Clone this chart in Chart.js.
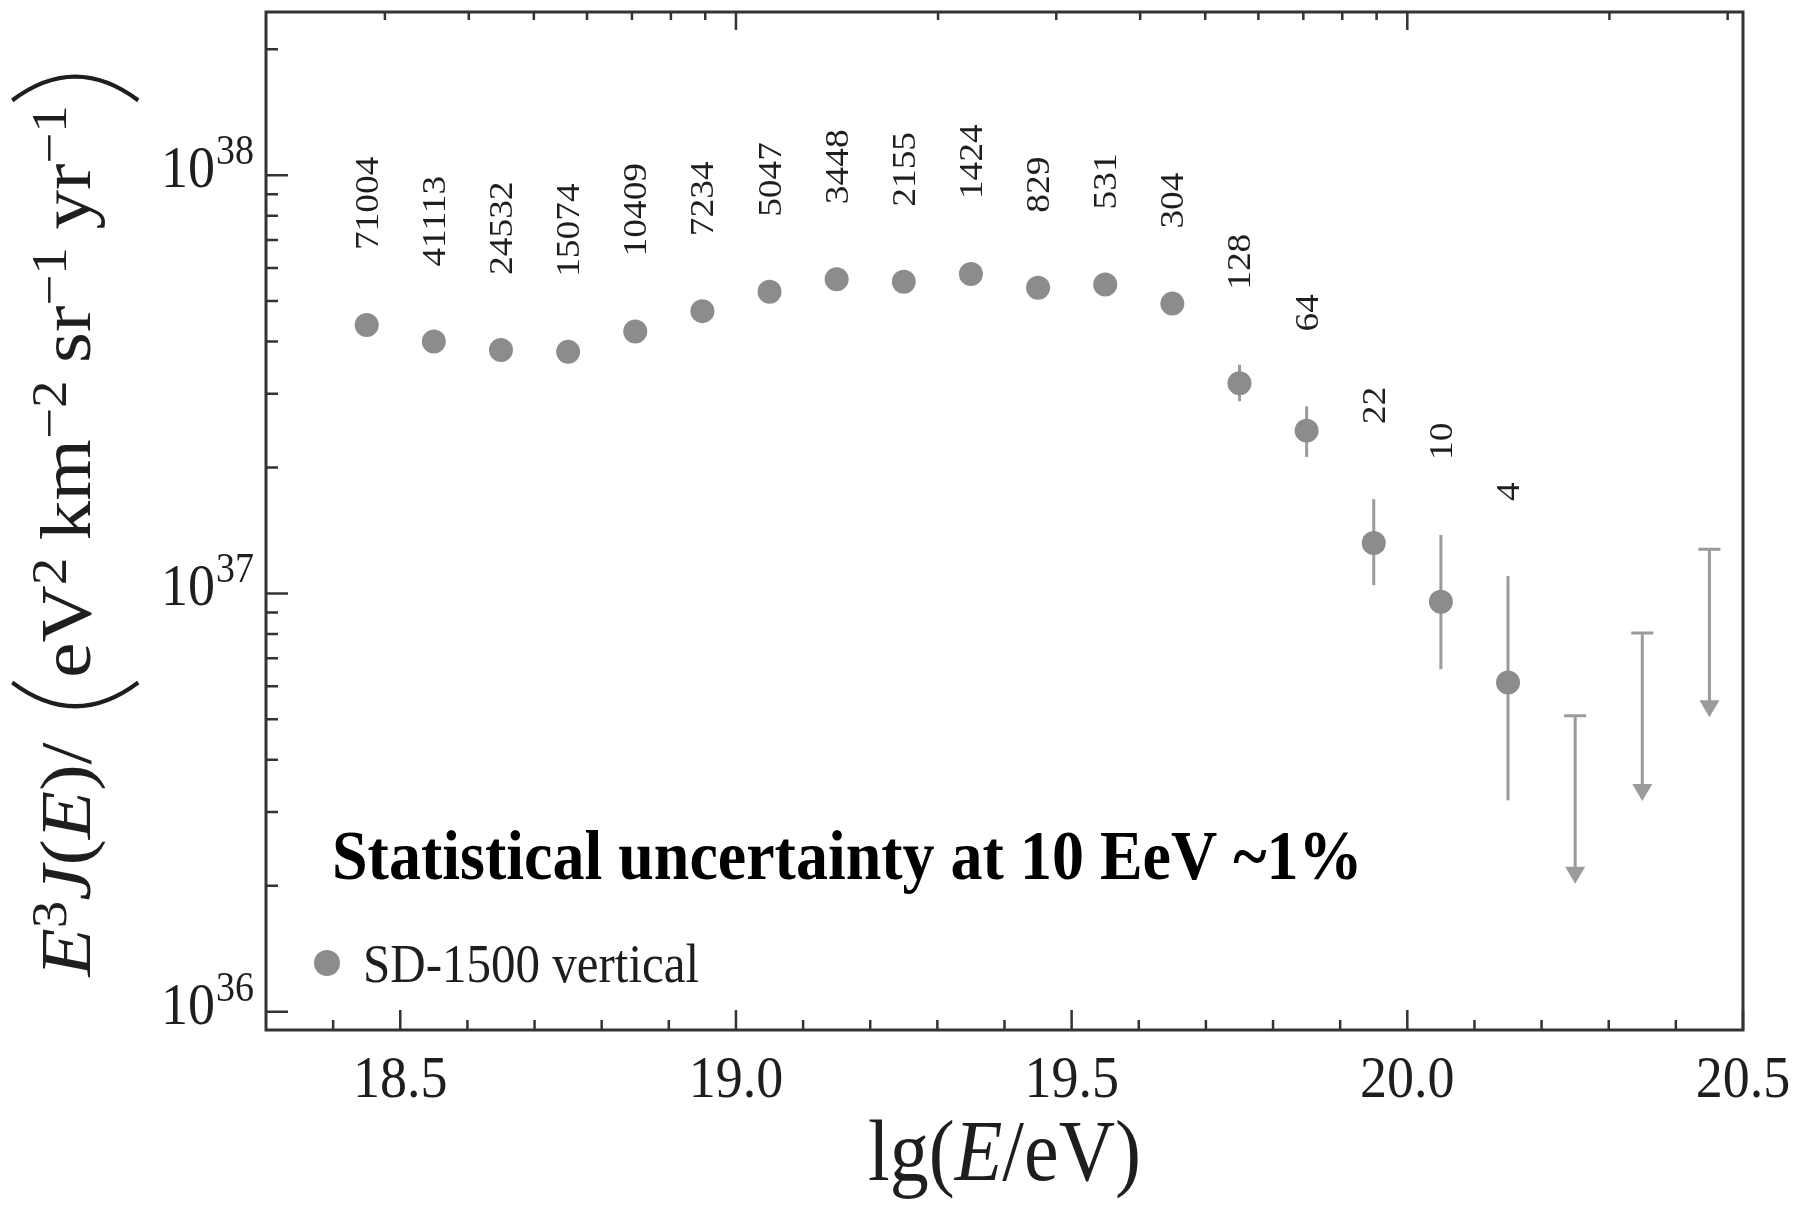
<!DOCTYPE html>
<html>
<head>
<meta charset="utf-8">
<title>SD-1500 vertical</title>
<script src="https://cdn.jsdelivr.net/npm/chart.js@4.4.1/dist/chart.umd.min.js"></script>
<style>
  html, body { margin: 0; padding: 0; background: #fff; }
  #marco { width: 1814px; height: 1205px; }
</style>
</head>
<body>
<div id="marco"><canvas id="grafico" width="1814" height="1205"></canvas></div>
<script>
// Espectro E^3 J(E), SD-1500 vertical
const lgE = [18.45, 18.55, 18.65, 18.75, 18.85, 18.95, 19.05, 19.15, 19.25,
             19.35, 19.45, 19.55, 19.65, 19.75, 19.85, 19.95, 20.05, 20.15];
const flujo = [4.38e37, 4.00e37, 3.82e37, 3.78e37, 4.23e37, 4.73e37, 5.26e37, 5.64e37, 5.56e37,
               5.80e37, 5.38e37, 5.48e37, 4.93e37, 3.18e37, 2.45e37, 1.32e37, 9.55e36, 6.12e36];
// barras de error (null = más chica que el marcador)
const errSup = [null, null, null, null, null, null, null, null, null,
                null, null, null, null, 3.52e37, 2.80e37, 1.68e37, 1.38e37, 1.10e37];
const errInf = [null, null, null, null, null, null, null, null, null,
                null, null, null, null, 2.88e37, 2.12e37, 1.047e37, 6.59e36, 3.20e36];
// número de eventos de cada bin
const eventos = [71004, 41113, 24532, 15074, 10409, 7234, 5047, 3448, 2155,
                 1424, 829, 531, 304, 128, 64, 22, 10, 4];
// cotas superiores
const lgELimites = [20.25, 20.35, 20.45];
const limites = [5.10e36, 8.04e36, 1.275e37];

// ejes
const etiquetasX = ['18.5', '19.0', '19.5', '20.0', '20.5'];
const decadasY = [1e36, 1e37, 1e38];
const leyenda = 'SD-1500 vertical';
const nota = 'Statistical uncertainty at 10 EeV ~1%';

const SERIF = '"Liberation Serif", "Times New Roman", serif';
const ESTIRAR = 1.1;       // el texto viene un poco alargado en vertical
const GRIS = '#8c8c8c';
const GRIS_ERR = '#9b9b9b';
const TINTA = '#1e1e1e';
const MARCO = '#333333';

// texto simple, horizontal o girado 90°
function texto(ctx, str, x, y, px, opts = {}) {
    ctx.save();
    ctx.translate(x, y);
    if (opts.rotar) { ctx.rotate(-Math.PI / 2); ctx.scale(ESTIRAR, 1); }
    else ctx.scale(1, ESTIRAR);
    ctx.font = (opts.estilo || '') + ' ' + px + 'px ' + SERIF;
    ctx.textAlign = opts.align || 'left';
    ctx.textBaseline = 'alphabetic';
    ctx.fillStyle = opts.color || TINTA;
    ctx.fillText(str, 0, 0);
    ctx.restore();
}

// texto con cursivas, exponentes y paréntesis grandes
function fuenteParte(p, base) {
    const px = p.sup ? Math.round(base * 0.7) : base;
    return (p.it ? 'italic ' : '') + px + 'px ' + SERIF;
}
function anchoParte(ctx, p, base) {
    if (p.hueco) return p.hueco;
    if (p.paren) return base * 0.4;
    ctx.font = fuenteParte(p, base);
    return ctx.measureText(p.t).width;
}
function dibujarParen(ctx, x, w, base, lado) {
    const arriba = -base * 1.08, abajo = base * 0.67, medio = (arriba + abajo) / 2;
    ctx.beginPath();
    if (lado === '(') {
        ctx.moveTo(x + w * 0.85, arriba);
        ctx.quadraticCurveTo(x - w * 0.65, medio, x + w * 0.85, abajo);
    } else {
        ctx.moveTo(x + w * 0.15, arriba);
        ctx.quadraticCurveTo(x + w * 1.65, medio, x + w * 0.15, abajo);
    }
    ctx.lineWidth = 4;
    ctx.strokeStyle = TINTA;
    ctx.stroke();
}
function textoRico(ctx, partes, base) {
    let total = 0;
    for (const p of partes) total += anchoParte(ctx, p, base);
    let x = -total / 2;
    for (const p of partes) {
        const w = anchoParte(ctx, p, base);
        if (p.paren) dibujarParen(ctx, x, w, base, p.paren);
        else if (!p.hueco) {
            ctx.font = fuenteParte(p, base);
            ctx.fillText(p.t, x, p.sup ? -base * 0.33 : 0);
        }
        x += w;
    }
}

const tituloY = [
    { t: 'E', it: true }, { t: '3', sup: true }, { t: 'J', it: true }, { t: '(' },
    { t: 'E', it: true }, { t: ')' }, { t: '/' }, { hueco: 30 }, { paren: '(' },
    { t: 'eV' }, { t: '2', sup: true }, { hueco: 16 }, { t: 'km' }, { t: '\u22122', sup: true },
    { hueco: 16 }, { t: 'sr' }, { t: '\u22121', sup: true }, { hueco: 16 },
    { t: 'yr' }, { t: '\u22121', sup: true }, { paren: ')' }
];
const tituloX = [{ t: 'lg(' }, { t: 'E', it: true }, { t: '/eV)' }];

const adornos = {
    id: 'adornos',
    beforeDatasetsDraw(chart) {
        const ctx = chart.ctx;
        const x = chart.scales.x, y = chart.scales.y;
        ctx.save();
        ctx.strokeStyle = GRIS_ERR;
        ctx.fillStyle = GRIS_ERR;
        ctx.lineWidth = 3;
        // barras de error
        lgE.forEach((e, i) => {
            if (errSup[i] == null) return;
            const px = x.getPixelForValue(e);
            ctx.beginPath();
            ctx.moveTo(px, y.getPixelForValue(errSup[i]));
            ctx.lineTo(px, y.getPixelForValue(errInf[i]));
            ctx.stroke();
        });
        // cotas superiores con flecha
        chart.getDatasetMeta(1).data.forEach(pt => {
            const largo = 168;
            ctx.beginPath();
            ctx.moveTo(pt.x - 11, pt.y);
            ctx.lineTo(pt.x + 11, pt.y);
            ctx.moveTo(pt.x, pt.y);
            ctx.lineTo(pt.x, pt.y + largo - 12);
            ctx.stroke();
            ctx.beginPath();
            ctx.moveTo(pt.x - 10, pt.y + largo - 17);
            ctx.lineTo(pt.x + 10, pt.y + largo - 17);
            ctx.lineTo(pt.x, pt.y + largo);
            ctx.closePath();
            ctx.fill();
        });
        ctx.restore();
    },
    afterDraw(chart) {
        const ctx = chart.ctx;
        const a = chart.chartArea;
        const x = chart.scales.x, y = chart.scales.y;
        ctx.save();

        // marco
        ctx.strokeStyle = MARCO;
        ctx.lineWidth = 3;
        ctx.strokeRect(a.left, a.top, a.right - a.left, a.bottom - a.top);

        ctx.lineWidth = 2.5;
        ctx.beginPath();
        // eje x abajo: cada 0.1, largas en las etiquetas
        for (let k = 184; k <= 205; k++) {
            const v = k / 10;
            const px = x.getPixelForValue(v);
            const largo = (k % 5 === 0) ? 20 : 10;
            ctx.moveTo(px, a.bottom);
            ctx.lineTo(px, a.bottom - largo);
        }
        // eje de arriba: energía en escala lineal (k·10^n eV)
        for (let n = 18; n <= 20; n++) {
            for (let k = 1; k <= 9; k++) {
                const v = Math.log10(k) + n;
                if (v <= x.min + 0.01 || v >= x.max) continue;
                const px = x.getPixelForValue(v);
                ctx.moveTo(px, a.top);
                ctx.lineTo(px, a.top + (k === 1 ? 18 : 8));
            }
        }
        // eje y logarítmico
        for (let n = 35; n <= 38; n++) {
            for (let k = 1; k <= 9; k++) {
                const v = k * Math.pow(10, n);
                if (v < y.min || v > y.max) continue;
                const py = y.getPixelForValue(v);
                ctx.moveTo(a.left, py);
                ctx.lineTo(a.left + (k === 1 ? 22 : 12), py);
            }
        }
        ctx.strokeStyle = MARCO;
        ctx.stroke();

        // etiquetas del eje x
        etiquetasX.forEach(t => {
            texto(ctx, t, x.getPixelForValue(parseFloat(t)), a.bottom + 67, 54, { align: 'center' });
        });
        // etiquetas del eje y: 10^n
        decadasY.forEach(v => {
            const py = y.getPixelForValue(v) + 12;
            const exp = String(Math.round(Math.log10(v)));
            ctx.font = '54px ' + SERIF;
            const w10 = ctx.measureText('10').width;
            ctx.font = '38px ' + SERIF;
            const wExp = ctx.measureText(exp).width;
            const x0 = a.left - 13 - wExp - w10;
            texto(ctx, '10', x0, py, 54);
            texto(ctx, exp, x0 + w10 + 1, py - 23, 38);
        });

        // número de eventos sobre cada punto
        const meta = chart.getDatasetMeta(0);
        meta.data.forEach((pt, i) => {
            const techo = errSup[i] != null ? y.getPixelForValue(errSup[i]) : pt.y;
            texto(ctx, String(eventos[i]), pt.x + 11, techo - 75, 34, { rotar: true });
        });

        // títulos de los ejes
        ctx.fillStyle = TINTA;
        ctx.save();
        ctx.translate(90, 525);
        ctx.rotate(-Math.PI / 2);
        ctx.scale(ESTIRAR, 1);
        textoRico(ctx, tituloY, 72);
        ctx.restore();

        ctx.save();
        ctx.translate((a.left + a.right) / 2, 1180);
        ctx.scale(1, ESTIRAR);
        textoRico(ctx, tituloX, 78);
        ctx.restore();

        // leyenda
        ctx.beginPath();
        ctx.arc(327, 963, 13, 0, 2 * Math.PI);
        ctx.fillStyle = GRIS;
        ctx.fill();
        texto(ctx, leyenda, 363, 982, 49);

        // nota
        texto(ctx, nota, 332, 879, 64, { estilo: 'bold', color: '#000' });

        ctx.restore();
    }
};

window.onload = function () {
    const ctx = document.getElementById('grafico').getContext('2d');
    new Chart(ctx, {
        type: 'scatter',
        data: {
            datasets: [{
                label: leyenda,
                data: lgE.map((e, i) => ({ x: e, y: flujo[i] })),
                pointRadius: 12,
                pointBackgroundColor: GRIS,
                pointBorderWidth: 0,
                showLine: false
            }, {
                label: 'cotas',
                data: lgELimites.map((e, i) => ({ x: e, y: limites[i] })),
                pointRadius: 0,
                showLine: false
            }]
        },
        options: {
            responsive: false,
            devicePixelRatio: 1,
            animation: false,
            layout: { padding: { left: 266, right: 71, top: 9, bottom: 175 } },
            plugins: { legend: { display: false }, tooltip: { enabled: false } },
            scales: {
                x: { type: 'linear', min: 18.3, max: 20.5, display: false },
                y: { type: 'logarithmic', min: 9.04e35, max: 2.455e38, display: false }
            }
        },
        plugins: [adornos]
    });
};
</script>
</body>
</html>
